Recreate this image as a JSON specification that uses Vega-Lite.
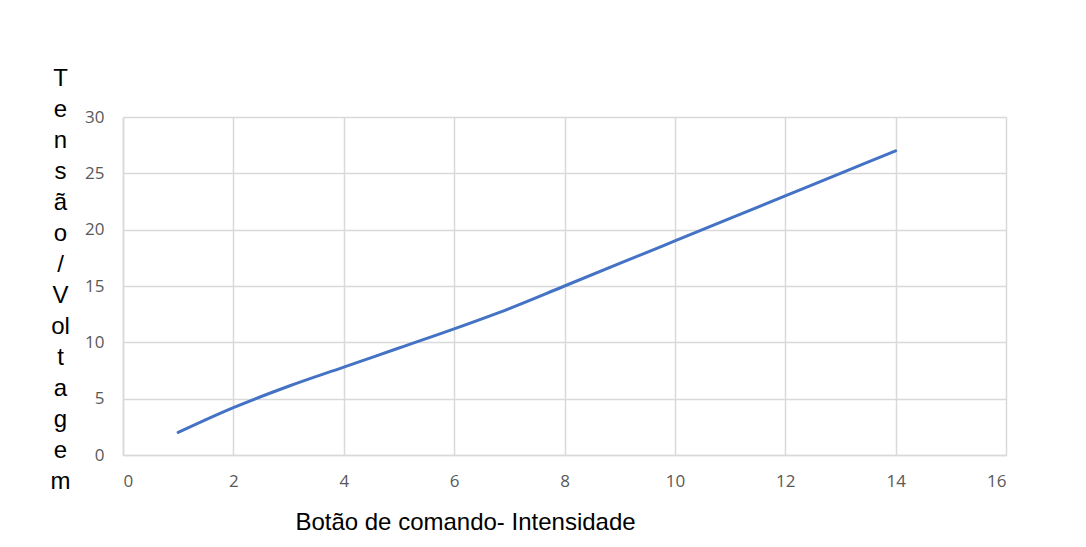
{
  "$schema": "https://vega.github.io/schema/vega-lite/v6.json",
  "autosize": "none",
  "width": 883,
  "height": 338,
  "padding": {"left": 123, "top": 117, "right": 80, "bottom": 92},
  "background": "white",
  "config": {"view": {"stroke": null}},
  "data": {
    "values": [
      {"botao": 1, "tensao": 2.0},
      {"botao": 2, "tensao": 4.2},
      {"botao": 3, "tensao": 6.1},
      {"botao": 4, "tensao": 7.8},
      {"botao": 5, "tensao": 9.5},
      {"botao": 6, "tensao": 11.2},
      {"botao": 7, "tensao": 13.0},
      {"botao": 8, "tensao": 15.0},
      {"botao": 9, "tensao": 17.0},
      {"botao": 10, "tensao": 19.0},
      {"botao": 11, "tensao": 21.0},
      {"botao": 12, "tensao": 23.0},
      {"botao": 13, "tensao": 25.0},
      {"botao": 14, "tensao": 27.0}
    ]
  },
  "mark": {"type": "line", "color": "#4472C4", "strokeWidth": 3, "interpolate": "catmull-rom", "strokeCap": "round"},
  "encoding": {
    "x": {
      "field": "botao",
      "type": "quantitative",
      "scale": {"domain": [0, 16], "nice": false},
      "axis": {
        "values": [0, 2, 4, 6, 8, 10, 12, 14, 16],
        "title": "Botão de comando- Intensidade",
        "titleFont": "Liberation Sans",
        "titleFontSize": 24,
        "titleFontWeight": "normal",
        "titleColor": "#000000",
        "titleX": 342,
        "titleY": 67,
        "titleAlign": "center",
        "titleBaseline": "middle",
        "labelFont": "Open Sans",
        "labelFontSize": 17,
        "labelColor": "#595959",
        "labelPadding": 18,
        "ticks": false,
        "domainColor": "#d9d9d9",
        "domainWidth": 1.5,
        "gridColor": "#d9d9d9",
        "gridWidth": 1.5
      }
    },
    "y": {
      "field": "tensao",
      "type": "quantitative",
      "scale": {"domain": [0, 30], "nice": false},
      "axis": {
        "values": [0, 5, 10, 15, 20, 25, 30],
        "title": ["T", "e", "n", "s", "ã", "o", "/", "V", "ol", "t", "a", "g", "e", "m"],
        "titleFont": "Liberation Sans",
        "titleFontSize": 24,
        "titleFontWeight": "normal",
        "titleColor": "#000000",
        "titleAngle": 0,
        "titleLineHeight": 31,
        "titleX": -63,
        "titleY": -39,
        "titleAlign": "center",
        "titleBaseline": "middle",
        "labelFont": "Open Sans",
        "labelFontSize": 17,
        "labelColor": "#595959",
        "labelPadding": 19,
        "ticks": false,
        "domainColor": "#d9d9d9",
        "domainWidth": 1.5,
        "gridColor": "#d9d9d9",
        "gridWidth": 1.5
      }
    }
  }
}
